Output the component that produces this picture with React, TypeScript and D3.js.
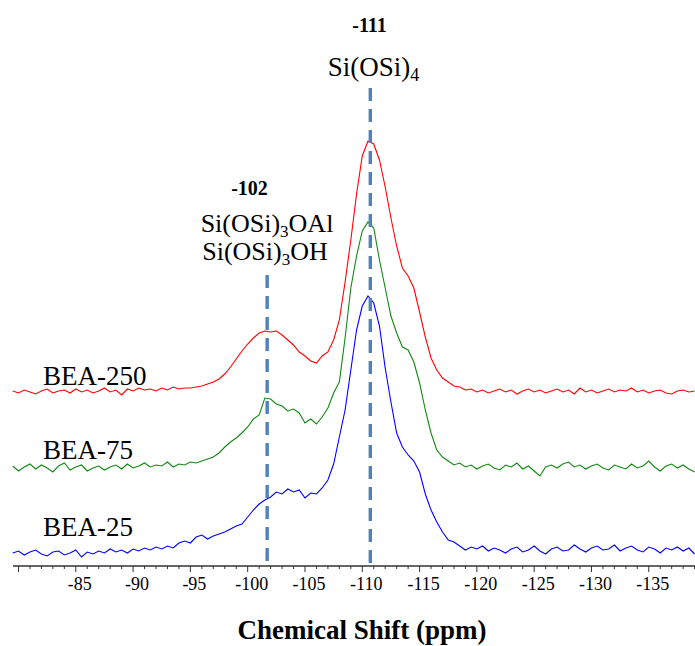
import React from "react";
import * as d3 from "d3";

// chemical shift grid (ppm)
const shiftStart = -79.5;
const shiftStep = -0.5;
const shiftCount = 120;
const shifts: number[] = Array.from({ length: shiftCount }, (_, i) => shiftStart + i * shiftStep);

const seriesNames = ["BEA-250", "BEA-75", "BEA-25"];
const seriesColors = ["#ff0000", "#118811", "#0000ff"];
const seriesOffsets = [174, 98, 14];

const bea250: number[] = [
  1, -1, 2, 0, -2, 1, 3, -1, 1, 2, -1, 3, 0, 2, -1, 1, 4, 0, 2, -3,
  3, 1, 4, 2, 3, 1, 4, 2, 5, 3, 4, 4, 5, 6, 8, 10, 13, 18, 25, 33,
  41, 48, 54, 59, 61, 60, 61, 57, 52, 47, 40, 36, 31, 29, 36, 40, 52, 72, 110, 152,
  198, 236, 251, 248, 232, 205, 174, 146, 124, 116, 104, 80, 55, 34, 22, 14, 10, 6, 5, 2,
  3, 0, 2, -1, 1, 3, 0, 2, -2, 1, 3, 0, 2, -1, 1, 3, 0, 2, -2, 4,
  0, 2, -1, 1, 3, 0, 2, 1, 4, 0, 2, -1, 1, 2, -1, -2, 1, 2, 0, 1,
];

const bea75: number[] = [
  2, -3, 1, 4, -1, 3, 0, -4, 2, 5, -2, 1, 3, -3, 0, 2, -2, 1, 3, -1,
  4, 0, 2, 5, 1, 3, 2, 6, 1, 4, 3, 6, 5, 7, 9, 11, 15, 21, 26, 30,
  35, 41, 49, 53, 70, 69, 64, 62, 57, 59, 55, 45, 49, 44, 51, 60, 75, 86, 130, 180,
  212, 237, 246, 240, 208, 180, 152, 135, 121, 118, 106, 85, 58, 35, 18, 11, 7, 3, 5, 1,
  3, -1, 2, 4, 0, -2, 3, 1, 5, -1, 2, -3, -8, 1, 3, 0, 4, 6, 1, 3,
  -1, 2, 4, 0, -2, 3, 1, -1, 4, 0, 2, 7, 1, -3, 2, 4, 0, 3, -1, -4,
];

const bea25: number[] = [
  -1, 1, -3, 0, 2, -2, -4, 0, 1, -3, -1, 2, -5, 0, -2, 1, -1, 3, 0, 2,
  -1, 3, 1, 4, 2, 5, 3, 6, 4, 9, 11, 9, 15, 17, 13, 16, 18, 20, 23, 26,
  28, 35, 42, 48, 52, 55, 60, 58, 63, 60, 62, 54, 59, 58, 64, 72, 88, 115, 142, 182,
  222, 246, 256, 249, 226, 184, 150, 119, 105, 97, 91, 80, 58, 42, 30, 20, 12, 10, 6, 2,
  5, 3, 6, 1, 4, 2, -1, 3, 5, 0, 2, 6, 1, -2, 3, 5, 1, 2, 7, 3,
  0, 4, 6, 2, 3, 7, 1, 4, 6, 2, 0, 5, 3, -1, 4, 2, 5, 1, 4, -2,
];

const seriesValues = [bea250, bea75, bea25];

const axisTicks: number[] = d3.range(-80, -139.5, -1);
const tickLabels = ["-85", "-90", "-95", "-100", "-105", "-110", "-115", "-120", "-125", "-130", "-135"];

const peakPositions = [-101.7, -110.7];
const peakTops = [275, 88];

const W = 695;
const H = 646;
const serif = "'Liberation Serif', 'DejaVu Serif', serif";

export default function App() {
  const x = d3.scaleLinear().domain([-80, -139]).range([18.5, 694.6]);
  const y = d3.scaleLinear().domain([0, 500]).range([566, 66]);
  const axisY = 566;

  const lines = seriesValues.map((vals, si) =>
    d3
      .line<number>()
      .x((_, i) => x(shifts[i]))
      .y((v) => y(v + seriesOffsets[si]))(vals) as string
  );

  const labelBaselines = [385, 459, 536];

  return (
    <svg
      width={W}
      height={H}
      style={{ position: "absolute", left: 0, top: 0, background: "#fff", fontFamily: serif }}
    >
      <rect width={W} height={H} fill="#fff" />
      {/* spectra */}
      {lines.map((d, i) => (
        <path key={i} d={d} fill="none" stroke={seriesColors[i]} strokeWidth={1.1} />
      ))}
      {/* dashed reference lines */}
      {peakPositions.map((p, i) => (
        <line
          key={i}
          x1={x(p)}
          x2={x(p)}
          y1={peakTops[i]}
          y2={axisY}
          stroke="#4f81bd"
          strokeWidth={3.4}
          strokeDasharray="13 8"
        />
      ))}
      {/* series labels */}
      {seriesNames.map((n, i) => (
        <text key={n} x={43} y={labelBaselines[i]} fontSize={27} fill="#000" fontFamily={serif}>
          {n}
        </text>
      ))}
      {/* annotations */}
      <text x={369.5} y={32} fontSize={20} fontWeight="bold" textAnchor="middle" fontFamily={serif}>
        -111
      </text>
      <text x={373.5} y={76} fontSize={27} textAnchor="middle" fontFamily={serif}>
        Si(OSi)
        <tspan fontSize={18} dy={5}>4</tspan>
      </text>
      <text x={249.5} y={195} fontSize={20} fontWeight="bold" textAnchor="middle" fontFamily={serif}>
        -102
      </text>
      <text x={267} y={232} fontSize={26} textAnchor="middle" fontFamily={serif}>
        Si(OSi)
        <tspan fontSize={17} dy={5}>3</tspan>
        <tspan dy={-5}>OAl</tspan>
      </text>
      <text x={265} y={260} fontSize={26} textAnchor="middle" fontFamily={serif}>
        Si(OSi)
        <tspan fontSize={17} dy={5}>3</tspan>
        <tspan dy={-5}>OH</tspan>
      </text>
      {/* axis */}
      <line x1={13} x2={W} y1={axisY} y2={axisY} stroke="#333" strokeWidth={1.3} />
      {axisTicks.map((t) => {
        const major = Math.round(t) % 5 === 0;
        return (
          <line
            key={t}
            x1={x(t)}
            x2={x(t)}
            y1={axisY}
            y2={axisY + (major ? 6 : 3)}
            stroke="#333"
            strokeWidth={1}
          />
        );
      })}
      {tickLabels.map((l) => (
        <text key={l} x={x(+l) + 4} y={590} fontSize={18} textAnchor="middle" fill="#000" fontFamily={serif}>
          {l}
        </text>
      ))}
      <text x={362} y={639} fontSize={27} fontWeight="bold" textAnchor="middle" fontFamily={serif}>
        Chemical Shift (ppm)
      </text>
    </svg>
  );
}
